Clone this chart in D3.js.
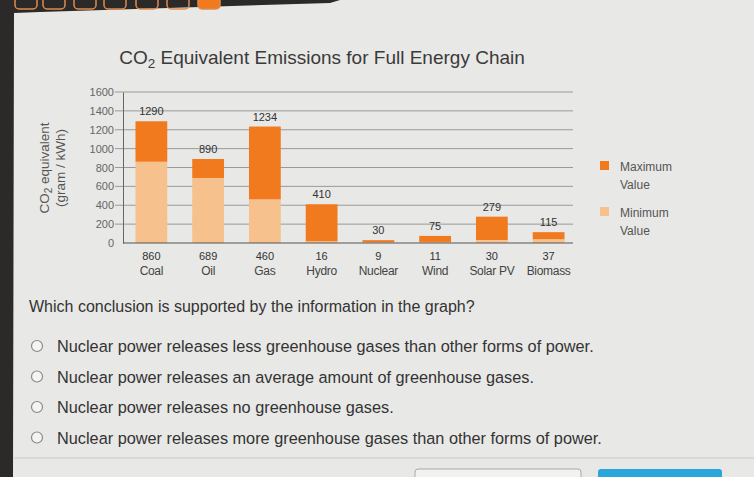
<!DOCTYPE html>
<html>
<head>
<meta charset="utf-8">
<script src="https://cdn.jsdelivr.net/npm/d3@7"></script>
<style>
  html, body { margin: 0; padding: 0; background: #e8e8e6; }
  svg { display: block; }
</style>
</head>
<body>
<svg></svg>
<script>
var WIDTH = 754;
var HEIGHT = 477;

// data
var categories = ['Coal', 'Oil', 'Gas', 'Hydro', 'Nuclear', 'Wind', 'Solar PV', 'Biomass'];
var minValues = [860, 689, 460, 16, 9, 11, 30, 37];
var maxValues = [1290, 890, 1234, 410, 30, 75, 279, 115];
var yTicks = [0, 200, 400, 600, 800, 1000, 1200, 1400, 1600];
var legendLabels = [['Maximum', 'Value'], ['Minimum', 'Value']];

var question = 'Which conclusion is supported by the information in the graph?';
var answers = [
  'Nuclear power releases less greenhouse gases than other forms of power.',
  'Nuclear power releases an average amount of greenhouse gases.',
  'Nuclear power releases no greenhouse gases.',
  'Nuclear power releases more greenhouse gases than other forms of power.'
];

var DARK = '#f27a1e';
var LIGHT = '#f6c18c';
var FONT = '"Liberation Sans", Arial, sans-serif';
var NARROW = '"Liberation Sans Narrow", "Liberation Sans", Arial, sans-serif';

var svg = d3.select('svg')
  .attr('width', WIDTH)
  .attr('height', HEIGHT);

svg.append('rect').attr('width', WIDTH).attr('height', HEIGHT).attr('fill', '#e8e8e6');

// screen edge from the photo
svg.append('path')
  .attr('d', 'M0,0 L340,0 L330,3 L40,12 L14,13 L13,477 L0,477 Z')
  .attr('fill', '#2b2a28');
var toolX = [15, 43, 74, 104, 136, 167, 198];
svg.selectAll('rect.tool')
  .data(toolX)
  .enter()
  .append('rect')
  .attr('class', 'tool')
  .attr('x', function(d){ return d; })
  .attr('y', -6)
  .attr('width', 22)
  .attr('height', 15)
  .attr('rx', 4)
  .attr('fill', function(d, i){ return i === 6 ? DARK : 'none'; })
  .attr('stroke', '#e08a4a')
  .attr('stroke-width', 1.5);

// chart
var margin = {left: 123, right: 573, top: 92, bottom: 243};

var xScale = d3.scaleBand()
  .domain(categories)
  .range([margin.left, 577])
  .paddingInner(0.44)
  .paddingOuter(0.22);

var yScale = d3.scaleLinear()
  .domain([0, 1600])
  .range([margin.bottom, margin.top]);

svg.append('text')
  .attr('x', 322)
  .attr('y', 64)
  .attr('text-anchor', 'middle')
  .attr('font-family', FONT)
  .attr('font-size', 19)
  .attr('fill', '#3a3a3a')
  .html('CO<tspan font-size="13.5" dy="4">2</tspan><tspan dy="-4"> Equivalent Emissions for Full Energy Chain</tspan>');

// gridlines
svg.append('g')
  .selectAll('line')
  .data(yTicks.slice(1))
  .enter()
  .append('line')
  .attr('x1', margin.left - 8)
  .attr('x2', margin.right)
  .attr('y1', function(d){ return yScale(d); })
  .attr('y2', function(d){ return yScale(d); })
  .attr('stroke', '#9a9a9a')
  .attr('stroke-width', 1);

var yAxis = d3.axisLeft(yScale)
  .tickValues(yTicks)
  .tickFormat(d3.format('d'))
  .tickSize(0)
  .tickPadding(9);
var yG = svg.append('g')
  .attr('transform', 'translate(' + margin.left + ',0)')
  .call(yAxis);
yG.select('.domain').attr('stroke', '#666');
yG.selectAll('text')
  .attr('font-family', FONT)
  .attr('font-size', 11)
  .attr('fill', '#666');

// y axis title
var yTitle = svg.append('text')
  .attr('transform', 'translate(49,168) rotate(-90)')
  .attr('text-anchor', 'middle')
  .attr('font-family', FONT)
  .attr('font-size', 13.5)
  .attr('fill', '#555');
yTitle.append('tspan').attr('x', 0).attr('dy', 0)
  .html('CO<tspan font-size="10" dy="3">2</tspan><tspan dy="-3"> equivalent</tspan>');
yTitle.append('tspan').attr('x', 0).attr('dy', 16).text('(gram / kWh)');

// bars: light part = minimum, dark part = up to maximum
var bars = svg.append('g');
bars.selectAll('rect.max')
  .data(categories)
  .enter()
  .append('rect')
  .attr('class', 'max')
  .attr('x', function(d){ return xScale(d); })
  .attr('width', xScale.bandwidth())
  .attr('y', function(d, i){ return yScale(maxValues[i]); })
  .attr('height', function(d, i){ return yScale(minValues[i]) - yScale(maxValues[i]); })
  .attr('fill', DARK);

bars.selectAll('rect.min')
  .data(categories)
  .enter()
  .append('rect')
  .attr('class', 'min')
  .attr('x', function(d){ return xScale(d); })
  .attr('width', xScale.bandwidth())
  .attr('y', function(d, i){ return yScale(minValues[i]); })
  .attr('height', function(d, i){ return yScale(0) - yScale(minValues[i]); })
  .attr('fill', LIGHT);

svg.append('line')
  .attr('x1', margin.left)
  .attr('x2', margin.right)
  .attr('y1', yScale(0))
  .attr('y2', yScale(0))
  .attr('stroke', '#555');

// value labels
svg.selectAll('text.maxlab')
  .data(categories)
  .enter()
  .append('text')
  .attr('class', 'maxlab')
  .attr('x', function(d){ return xScale(d) + xScale.bandwidth() / 2; })
  .attr('y', function(d, i){ return yScale(maxValues[i]) - 6; })
  .attr('text-anchor', 'middle')
  .attr('font-family', FONT)
  .attr('font-size', 11)
  .attr('fill', '#333')
  .text(function(d, i){ return maxValues[i]; });

svg.selectAll('text.minlab')
  .data(categories)
  .enter()
  .append('text')
  .attr('class', 'minlab')
  .attr('x', function(d){ return xScale(d) + xScale.bandwidth() / 2; })
  .attr('y', yScale(0) + 17)
  .attr('text-anchor', 'middle')
  .attr('font-family', FONT)
  .attr('font-size', 11)
  .attr('fill', '#333')
  .text(function(d, i){ return minValues[i]; });

svg.selectAll('text.cat')
  .data(categories)
  .enter()
  .append('text')
  .attr('class', 'cat')
  .attr('x', function(d){ return xScale(d) + xScale.bandwidth() / 2; })
  .attr('y', yScale(0) + 32)
  .attr('text-anchor', 'middle')
  .attr('font-family', FONT)
  .attr('font-size', 12)
  .attr('letter-spacing', -0.3)
  .attr('fill', '#444')
  .text(function(d){ return d; });

// legend
var legend = svg.selectAll('g.legend')
  .data(legendLabels)
  .enter()
  .append('g')
  .attr('class', 'legend')
  .attr('transform', function(d, i){ return 'translate(600,' + (161 + i * 46) + ')'; });
legend.append('rect')
  .attr('width', 9)
  .attr('height', 9)
  .attr('fill', function(d, i){ return i === 0 ? DARK : LIGHT; });
legend.append('text')
  .attr('x', 20)
  .attr('y', 10)
  .attr('font-family', FONT)
  .attr('font-size', 12)
  .attr('fill', '#555')
  .selectAll('tspan')
  .data(function(d){ return d; })
  .enter()
  .append('tspan')
  .attr('x', 20)
  .attr('dy', function(d, i){ return i === 0 ? 0 : 18; })
  .text(function(d){ return d; });

// question
svg.append('text')
  .attr('x', 29)
  .attr('y', 312)
  .attr('font-family', NARROW)
  .attr('font-size', 16)
  .attr('fill', '#333')
  .text(question);

var opt = svg.selectAll('g.answer')
  .data(answers)
  .enter()
  .append('g')
  .attr('class', 'answer')
  .attr('transform', function(d, i){ return 'translate(0,' + (346 + i * 30.5) + ')'; });
opt.append('circle')
  .attr('cx', 37)
  .attr('cy', 0)
  .attr('r', 5.5)
  .attr('fill', '#f4f4f2')
  .attr('stroke', '#8a8a8a')
  .attr('stroke-width', 1.2);
opt.append('text')
  .attr('x', 57)
  .attr('y', 6)
  .attr('font-family', NARROW)
  .attr('font-size', 16.3)
  .attr('fill', '#333')
  .text(function(d){ return d; });

// bottom bar
svg.append('line')
  .attr('x1', 14).attr('x2', WIDTH)
  .attr('y1', 458).attr('y2', 458)
  .attr('stroke', '#c8c8c6');
svg.append('rect')
  .attr('x', 415).attr('y', 469).attr('width', 166).attr('height', 20).attr('rx', 3)
  .attr('fill', '#f2f2f0').attr('stroke', '#a8a8a8');
svg.append('rect')
  .attr('x', 598).attr('y', 469).attr('width', 124).attr('height', 20).attr('rx', 3)
  .attr('fill', '#2aa6dc');
</script>
</body>
</html>
